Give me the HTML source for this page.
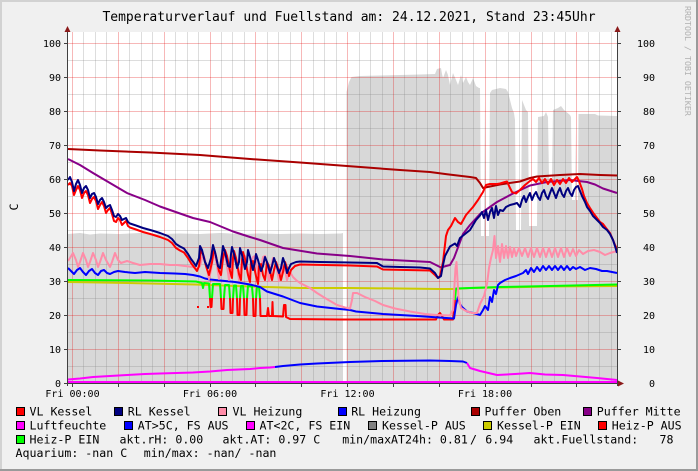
<!DOCTYPE html>
<html><head><meta charset="utf-8"><style>
html,body{margin:0;padding:0;background:#f0f0f0;}
svg{display:block;}
text{font-family:"DejaVu Sans Mono","Liberation Mono",monospace;fill:#000;}
</style></head><body>
<svg width="698" height="471" viewBox="0 0 698 471" xmlns="http://www.w3.org/2000/svg">
<rect x="0" y="0" width="698" height="471" fill="#f0f0f0"/>
<rect x="0" y="0" width="698" height="2" fill="#d2d2d2"/>
<rect x="0" y="0" width="2" height="471" fill="#d2d2d2"/>
<rect x="0" y="469" width="698" height="2" fill="#9a9a9a"/>
<rect x="696" y="0" width="2" height="471" fill="#9a9a9a"/>

<text x="349" y="21" font-size="13" text-anchor="middle">Temperaturverlauf und Fuellstand am: 24.12.2021, Stand 23:45Uhr</text>
<text transform="translate(685,6) rotate(90)" font-size="8.3" fill="#b0b0b0" style="fill:#b0b0b0">RRDTOOL / TOBI OETIKER</text>
<text transform="translate(18,207) rotate(-90)" font-size="11.6" text-anchor="middle">C</text>

<rect x="68" y="32" width="549" height="351" fill="#ffffff"/>

<polygon fill="#d8d8d8" points="68,383 68,234 80,233 90,234.5 100,233.5 120,234 140,233 160,234 180,233.5 200,234 220,233 240,234 260,233.5 280,234 300,233.5 320,234 341,233.5 343,233 343,383 346.5,383 346.5,92 349,82 351.5,77 360,76 380,75.5 400,75 420,74.5 435,74 437,69 441,68 442,74 443,78 446,70 448,75 450,85 453,73 456,80 458,85 461,75 463,83 466,77 468,82 470,85 473,78 476,86 479,88 480,88 481,236 484,236 485,100 486,236 489,236 490,93 492,90 500,88 506,89 508,92 510,100 512,108 514,113 515,120 516,230 521,230 522,100 524,105 526,110 528,112 529,226 537,226 538,117 544,116 546,112 548,117 549,178 552,178 553,110 558,108 561,106 564,110 570,115 571,117 572,200 575,200 575.5,130 576,200 578,200 578.5,114 595,114 598,115.5 617,116 617,383"/>

<g stroke="rgba(128,128,128,0.27)" stroke-width="1">
<path d="M83.5 32V383M95.5 32V383M106.5 32V383M129.5 32V383M141.5 32V383M152.5 32V383M175.5 32V383M187.5 32V383M198.5 32V383M221.5 32V383M232.5 32V383M244.5 32V383M267.5 32V383M278.5 32V383M290.5 32V383M313.5 32V383M324.5 32V383M336.5 32V383M359.5 32V383M370.5 32V383M382.5 32V383M404.5 32V383M416.5 32V383M427.5 32V383M450.5 32V383M462.5 32V383M473.5 32V383M496.5 32V383M508.5 32V383M519.5 32V383M542.5 32V383M554.5 32V383M565.5 32V383M588.5 32V383M599.5 32V383M611.5 32V383"/>
<path d="M68 60.5H617M68 94.5H617M68 128.5H617M68 162.5H617M68 196.5H617M68 230.5H617M68 264.5H617M68 298.5H617M68 332.5H617M68 366.5H617"/>
</g>
<g stroke="rgba(225,0,0,0.28)" stroke-width="1">
<path d="M72.5 32V383M118.5 32V383M164.5 32V383M210.5 32V383M255.5 32V383M301.5 32V383M347.5 32V383M393.5 32V383M439.5 32V383M485.5 32V383M531.5 32V383M576.5 32V383"/>
<path d="M68 43.5H617M68 77.5H617M68 111.5H617M68 145.5H617M68 179.5H617M68 213.5H617M68 247.5H617M68 281.5H617M68 315.5H617M68 349.5H617"/>
</g>

<g fill="none" stroke-width="2" stroke-linejoin="round">
<polyline stroke="#cccc00" points="68,282 100,282.5 150,283.5 195,284.5 250,286.5 300,288 350,288 400,288.5 440,289 455,289 470,288 500,287.5 550,286.5 617,286"/>
<!-- Heiz-P EIN green -->
<polyline stroke="#00ff00" points="68,280 150,280.5 196,281.5 202,283 203,288 204,283 209,283.5 210,298"/>
<polyline stroke="#00ff00" points="212,298 213,284 220,284 221,298"/>
<polyline stroke="#00ff00" points="224,298 225,285 229,285 230,298"/>
<polyline stroke="#00ff00" points="233,298 234,285.5 236,285.5 237,298"/>
<polyline stroke="#00ff00" points="240,298 241,286 243,286 244,298"/>
<polyline stroke="#00ff00" points="247,298 248,286 252,286.5 253,298"/>
<polyline stroke="#00ff00" points="256,298 257,287 259,287 260,298"/>
<polyline stroke="#00ff00" points="455,300 456,288.5 470,288 500,287 550,286 617,284.5"/>
<!-- Heiz-P AUS red -->
<polyline stroke="#ff0000" points="210,298 210.5,307 211.5,307 212,298"/>
<polyline stroke="#ff0000" points="221,298 221.5,309 223.5,309 224,298"/>
<polyline stroke="#ff0000" points="230,298 230.5,313 232.5,313 233,298"/>
<polyline stroke="#ff0000" points="237,298 237.5,315 239.5,315 240,298"/>
<polyline stroke="#ff0000" points="244,298 244.5,315 246.5,315 247,298"/>
<polyline stroke="#ff0000" points="253,298 253.5,316 255.5,316 256,298"/>
<polyline stroke="#ff0000" points="260,298 260.5,316 267,316 268,308 269,316 272,316 272.5,302 273,316 283,316.5 284,305 285.5,305 286,317 290,319 340,319.5 400,319.5 436,319.5 438,315 440,313 442,316 444,319.5 453,319.5 455,300"/>
<rect x="197" y="306" width="2" height="2" fill="#ff0000" stroke="none"/>
<rect x="207" y="306" width="2" height="2" fill="#ff0000" stroke="none"/>

<polyline stroke="#0000ff" points="68,268 71,271 74,274 77,270 80,268 83,272 86,275 89,271 92,269 95,273 98,275 101,271 104,270 107,273 110,274 114,272 118,271 125,272 135,273 145,272 160,273 175,273.5 185,274 193,275 200,276.5 205,278.5 210,279.5 220,280.5 235,282 250,284.5 260,287 267,291.5 283,296.5 300,303 317,306.5 340,309 350,310 356,311.5 383,314 417,316 450,318.3 454,318.5 456,305 458,297 460,304 462,307 467,311.5 475,313.5 480,315 483,310 485,306 488,310 490,297 492,302 494,290 496,294 498,285 500,283 505,280 510,278 516,276 523,273 526,270 528,274 531,268 534,272 537,267 540,271 543,266 546,270 549,266 552,270 555,266 558,270 561,266 564,270 567,266 570,270 573,267 576,269 580,267 585,270 590,268 596,269 602,271 607,271 612,272 617,273"/>

<polyline stroke="#ff8ca8" points="68,261 70,258 73,253 76,260 78,267 80,262 83,253 86,260 88,267 90,262 93,253 96,260 98,267 100,262 103,253 106,260 110,267 112,262 115,253 118,260 121,263 127,261 133,263 140,265 150,264 160,264 170,265 177,265 185,266 193,267 197,269 200,266 202,258 204,256 206,264 209,279 211,270 213,258 215,256 217,266 219,279 221,268 223,257 225,256 227,266 229,280 231,268 233,257 235,256 237,266 239,280 241,268 243,257 245,256 247,266 249,280 251,268 253,257 255,256 257,266 259,280 261,268 263,257 265,256 267,266 269,281 271,268 273,258 275,260 277,270 279,281 281,272 283,266 285,270 287,280 289,274 290,272 293,277 296,280 300,283 310,288 317,293 325,298 337,305 345,307.5 350,308.5 352,300 353,293 357,293 365,297 375,301 383,305 395,308.5 410,311.5 425,314 437,315 450,315.5 453,310 454.5,285 455.5,268 456.5,262 457.5,280 458.5,297 461,308 466,311 472,313 477,313 480,304 484,296 487,284 489,268 491,258 493,250 494.5,236 496,258 498,246 500,262 502,244 504,258 506,246 508,258 510,247 512,257 514,248 516,256 519,248 522,256 525,248 528,257 531,248 534,257 537,248 540,257 543,248 546,257 549,248 552,257 555,248 558,257 561,248 564,257 567,248 570,256 573,249 576,256 579,250 583,254 588,251 594,250 600,252 605,255 610,253 617,251"/>

<polyline stroke="#aa0000" points="68,149 100,150.5 150,152.5 200,155 250,159 300,162.5 347,166 400,170 430,172 447,174.3 470,177 476,178 480,183 483,188 490,186.5 500,184.5 520,181.5 530,178 537,176.5 560,175 580,174 600,175 617,175.5"/>
<polyline stroke="#880088" points="68,159 80,165 93,173 110,183 127,193 145,200 160,206.5 180,213.5 193,218 210,222 233,231.5 250,237 260,240 283,248 317,253.5 350,256 383,259.5 430,262 435,264.5 441,267.5 446,266 450,265 454,258 457,250 463,234 470,225 480,214 497,202 513,193.5 530,185.5 547,182 570,180 587,182 595,184.5 603,188.5 617,193"/>

<polyline stroke="#ff0000" points="68,185 70,183 72,186 74,195 76,190 78,186 80,190 82,198 84,193 86,191 88,195 90,203 92,199 94,197 96,201 98,209 100,205 102,202 104,206 106,213 108,210 110,208 112,214 114,221 116,222 118,218 120,220 122,225 124,223 126,221 128,226 130,227.5 136,229.5 143,232 152,234.5 160,237 168,240 172,243 176,248 180,250.5 184,252.5 188,258 191,263 194,267 197,271 199,266 201,250 203,254 206,266 209,275 212,262 214,249 216,256 219,271 221,275 223,258 225,250 227,256 230,271 232,278 233,258 234,251 236,258 239,274 241,280 242,260 243,252 245,259 248,275 250,282 251,262 253,261 256,276 258,284 259,266 261,264 263,275 265,280 267,262 269,266 272,280 274,270 276,262 278,268 281,280 283,272 285,262 287,268 289,276 291,270 295,266 300,264.5 350,265.5 377,266.5 383,269.5 430,270.5 435,275 438,278 440,276 443,262 446,236 448,230 451,226 455,218 458,222 461,224 466,215 473,207 478,200 483,192 486,185 490,184 497,184 500,183.5 505,182 507,181.5 510,188 512,192 516,193.5 520,190 525,185 530,181 533,179 536,182 539,178 542,183 545,179 548,184 551,179 554,185 557,180 560,184 563,179 566,183 569,178 572,182 575,179 577,177 579,181 582,189 584,196 587,203 590,208 594,214 597,218 600,222 603,224 606,228 610,233 613,240 615,245 617,249"/>
<polyline stroke="#000080" points="68,180 70,177 72,182 74,191 76,184 78,180 80,185 82,193 84,188 86,186 88,190 90,198 92,194 94,193 96,197 98,204 100,200 102,198 104,202 106,208 108,206 110,205 112,210 114,216 116,217 118,214 120,216 122,220 124,219 126,218 128,222 130,223.5 136,225.5 143,228 152,230.5 160,233 168,236 172,239 176,244 180,246.5 184,248.5 188,254 191,259 194,263 196,266 199,258 200,246 202,250 205,262 208,268 211,258 213,245 215,252 218,266 220,268 222,254 223,246 225,252 228,266 230,267 231,254 232,247 234,254 237,268 239,262 240,248 242,255 245,269 247,262 248,250 250,257 253,270 255,262 256,254 258,260 261,271 263,266 265,257 267,262 270,273 272,266 274,258 276,264 279,273 281,268 283,258 285,264 287,273 289,268 291,264 296,262 300,261.5 320,262 350,262.5 377,263 383,266.5 400,267 420,267.5 430,268.5 435,273 438,278 441,276 443,265 445,256 450,246.5 455,243.5 457,246 460,238 465,234 470,230 476,220 480,215.5 482,212 484,218 486,210 488,220 490,212 492,208 494,218 496,206 498,215 500,210 503,211 506,207 510,205 514,204 517,203 520,207 522,200 524,196 526,202 528,197 530,193 532,200 534,195 536,192 538,197 540,200 542,193 544,190 546,196 548,199 550,193 552,188 554,193 556,198 558,192 560,188 562,194 564,197 566,191 568,188 570,193 572,196 574,190 576,187 578,186 580,191 582,196 585,202 587,207 590,211 593,216 596,219 600,223 603,227 607,230 610,234 613,240 615,246 617,253"/>

<polyline stroke="#ff00ff" points="68,379.5 80,378.5 93,377 110,376 127,375 145,374 160,373.5 193,372.5 210,371.5 227,370 250,369 260,368 270,367.5 275,367"/>
<polyline stroke="#0000ff" points="275,367 283,366 300,364.5 317,363.5 350,362 383,361 430,360.5 450,361 463,361.5 467,363"/>
<polyline stroke="#ff00ff" points="467,363 470,368 480,371 497,375 515,374 530,373 545,374.5 563,375 580,376.5 597,378 617,380"/>
<line x1="68" y1="382" x2="617" y2="382" stroke="#ff00ff"/>
</g>

<g stroke="#404040" stroke-width="1">
<line x1="67.5" y1="30" x2="67.5" y2="386"/>
<line x1="617.5" y1="30" x2="617.5" y2="386"/>
<line x1="64" y1="383.5" x2="620" y2="383.5"/>
<path d="M64 43.5H67.5M64 77.5H67.5M64 111.5H67.5M64 145.5H67.5M64 179.5H67.5M64 213.5H67.5M64 247.5H67.5M64 281.5H67.5M64 315.5H67.5M64 349.5H67.5"/>
<path d="M617.5 43.5H621M617.5 77.5H621M617.5 111.5H621M617.5 145.5H621M617.5 179.5H621M617.5 213.5H621M617.5 247.5H621M617.5 281.5H621M617.5 315.5H621M617.5 349.5H621"/>
<path d="M72.5 383.5V387M118.5 383.5V387M164.5 383.5V387M210.5 383.5V387M255.5 383.5V387M301.5 383.5V387M347.5 383.5V387M393.5 383.5V387M439.5 383.5V387M485.5 383.5V387M531.5 383.5V387M576.5 383.5V387"/>
</g>
<g fill="#8b1a1a">
<polygon points="64.5,32 70.5,32 67.5,26"/>
<polygon points="614.5,32 620.5,32 617.5,26"/>
<polygon points="618,380.5 618,386.5 624,383.5"/>
</g>

<g font-size="10" text-anchor="end">
<text x="61" y="47">100</text><text x="61" y="81">90</text><text x="61" y="115">80</text><text x="61" y="149">70</text><text x="61" y="183">60</text><text x="61" y="217">50</text><text x="61" y="251">40</text><text x="61" y="285">30</text><text x="61" y="319">20</text><text x="61" y="353">10</text><text x="61" y="387">0</text>
<text x="655" y="47">100</text><text x="655" y="81">90</text><text x="655" y="115">80</text><text x="655" y="149">70</text><text x="655" y="183">60</text><text x="655" y="217">50</text><text x="655" y="251">40</text><text x="655" y="285">30</text><text x="655" y="319">20</text><text x="655" y="353">10</text><text x="655" y="387">0</text>
</g>
<g font-size="10" text-anchor="middle">
<text x="72.5" y="397">Fri 00:00</text><text x="210" y="397">Fri 06:00</text><text x="347.5" y="397">Fri 12:00</text><text x="485" y="397">Fri 18:00</text>
</g>

<g stroke="#000" stroke-width="1">
<rect x="16.5" y="407.5" width="8" height="8" fill="#ff0000"/>
<rect x="114.5" y="407.5" width="8" height="8" fill="#000080"/>
<rect x="218.5" y="407.5" width="8" height="8" fill="#ff8ca8"/>
<rect x="338.5" y="407.5" width="8" height="8" fill="#0000ff"/>
<rect x="471.5" y="407.5" width="8" height="8" fill="#aa0000"/>
<rect x="583.5" y="407.5" width="8" height="8" fill="#880088"/>
<rect x="16.5" y="421.5" width="8" height="8" fill="#ff00ff"/>
<rect x="124.5" y="421.5" width="8" height="8" fill="#0000ff"/>
<rect x="246.5" y="421.5" width="8" height="8" fill="#ff00ff"/>
<rect x="368.5" y="421.5" width="8" height="8" fill="#808080"/>
<rect x="483.5" y="421.5" width="8" height="8" fill="#cccc00"/>
<rect x="598.5" y="421.5" width="8" height="8" fill="#ff0000"/>
<rect x="16.5" y="435.5" width="8" height="8" fill="#00ff00"/>
</g>
<g font-size="11.6">
<text x="29.5" y="415.5">VL Kessel</text>
<text x="127.8" y="415.5">RL Kessel</text>
<text x="232.5" y="415.5">VL Heizung</text>
<text x="351.2" y="415.5">RL Heizung</text>
<text x="484.5" y="415.5">Puffer Oben</text>
<text x="596.8" y="415.5">Puffer Mitte</text>
<text x="29.5" y="429.5">Luftfeuchte</text>
<text x="137.8" y="429.5">AT&gt;5C, FS AUS</text>
<text x="259.5" y="429.5">AT&lt;2C, FS EIN</text>
<text x="382" y="429.5">Kessel-P AUS</text>
<text x="497" y="429.5">Kessel-P EIN</text>
<text x="611.8" y="429.5">Heiz-P AUS</text>
<text x="29.5" y="443.5">Heiz-P EIN</text>
<text x="119.5" y="443.5">akt.rH: 0.00</text>
<text x="222.5" y="443.5">akt.AT: 0.97 C</text>
<text x="342.2" y="443.5">min/maxAT24h: 0.81</text>
<text x="470" y="443.5">/</text>
<text x="485.3" y="443.5">6.94</text>
<text x="533.5" y="443.5">akt.Fuellstand:</text>
<text x="659.5" y="443.5">78</text>
<text x="15.5" y="457">Aquarium: -nan C</text>
<text x="143.8" y="457">min/max: -nan/ -nan</text>
</g>
</svg>
</body></html>
